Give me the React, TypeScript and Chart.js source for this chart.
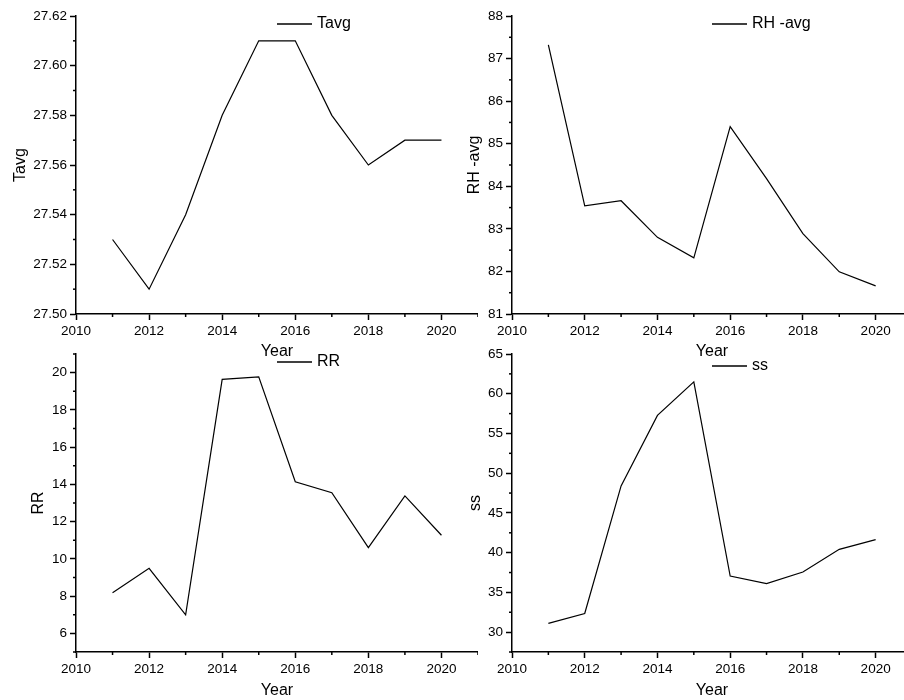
import React, { useEffect, useRef } from 'react';
import { Chart, registerables } from 'chart.js';

Chart.register(...registerables);

// ---- data ----
const years = [2011, 2012, 2013, 2014, 2015, 2016, 2017, 2018, 2019, 2020];
const tavg = [27.53, 27.51, 27.54, 27.58, 27.61, 27.61, 27.58, 27.56, 27.57, 27.57];
const rhAvg = [87.32, 83.54, 83.66, 82.8, 82.32, 85.4, 84.18, 82.89, 81.99, 81.66];
const rr = [8.18, 9.49, 7.0, 19.64, 19.77, 14.14, 13.55, 10.6, 13.38, 11.27];
const ss = [31.1, 32.35, 48.4, 57.27, 61.5, 37.06, 36.1, 37.56, 40.42, 41.64];

const yearTicks = [2010, 2012, 2014, 2016, 2018, 2020];
const tavgTicks = [27.5, 27.52, 27.54, 27.56, 27.58, 27.6, 27.62];
const rhTicks = [81, 82, 83, 84, 85, 86, 87, 88];
const rrTicks = [6, 8, 10, 12, 14, 16, 18, 20];
const ssTicks = [30, 35, 40, 45, 50, 55, 60, 65];

const FONT = '"Liberation Sans", Arial, Helvetica, sans-serif';
const TICK_SIZE = 13.5;

type Spec = {
  key: string;
  label: string;
  values: number[];
  ticks: number[];
  min: number;
  max: number;
  minorStep: number;
  decimals: number;
  box: { left: number; top: number; width: number; height: number };
  padTop: number;
  yWidth: number;
  xHeight: number;
  yTitlePad: number;
  legend: { dx: number; dy: number };
};

const panels: Spec[] = [
  {
    key: 'tl', label: 'Tavg', values: tavg, ticks: tavgTicks, min: 27.5, max: 27.62, minorStep: 0.01, decimals: 2,
    box: { left: 0, top: 0, width: 478, height: 361 }, padTop: 16, yWidth: 76, xHeight: 47, yTitlePad: 11,
    legend: { dx: 201, dy: 8 },
  },
  {
    key: 'tr', label: 'RH -avg', values: rhAvg, ticks: rhTicks, min: 81, max: 88, minorStep: 0.5, decimals: 0,
    box: { left: 440, top: 0, width: 472, height: 361 }, padTop: 16, yWidth: 72, xHeight: 47, yTitlePad: 25,
    legend: { dx: 200, dy: 8 },
  },
  {
    key: 'bl', label: 'RR', values: rr, ticks: rrTicks, min: 5, max: 21, minorStep: 1, decimals: 0,
    box: { left: 0, top: 340, width: 478, height: 360 }, padTop: 14, yWidth: 76, xHeight: 48, yTitlePad: 29,
    legend: { dx: 201, dy: 8 },
  },
  {
    key: 'br', label: 'ss', values: ss, ticks: ssTicks, min: 27.5, max: 65, minorStep: 2.5, decimals: 0,
    box: { left: 440, top: 340, width: 472, height: 360 }, padTop: 14, yWidth: 72, xHeight: 48, yTitlePad: 26,
    legend: { dx: 200, dy: 12 },
  },
];

const minorTicksPlugin = {
  id: 'minorTicks',
  afterDraw(chart: any, _args: any, opts: any) {
    const ctx = chart.ctx;
    ctx.save();
    ctx.strokeStyle = '#000';
    ctx.lineWidth = 1.5;
    const draw = (scale: any, step: number, isX: boolean) => {
      const majors = scale.ticks.map((t: any) => t.value);
      const n = Math.round((scale.max - scale.min) / step);
      for (let i = 0; i <= n; i++) {
        const v = scale.min + i * step;
        if (majors.some((m: number) => Math.abs(m - v) < step * 0.01)) continue;
        const p = scale.getPixelForValue(v);
        ctx.beginPath();
        if (isX) {
          ctx.moveTo(p, scale.top);
          ctx.lineTo(p, scale.top + opts.len);
        } else {
          ctx.moveTo(scale.right, p);
          ctx.lineTo(scale.right - opts.len, p);
        }
        ctx.stroke();
      }
    };
    draw(chart.scales.x, opts.xStep, true);
    draw(chart.scales.y, opts.yStep, false);
    ctx.restore();
  },
};

const inlineLegendPlugin = {
  id: 'inlineLegend',
  afterDraw(chart: any, _args: any, opts: any) {
    const ctx = chart.ctx;
    const { left, top } = chart.chartArea;
    const x = left + opts.dx;
    const y = top + opts.dy;
    ctx.save();
    ctx.strokeStyle = '#000';
    ctx.lineWidth = 1.3;
    ctx.beginPath();
    ctx.moveTo(x, y);
    ctx.lineTo(x + 35, y);
    ctx.stroke();
    ctx.fillStyle = '#000';
    ctx.font = `16px ${FONT}`;
    ctx.textBaseline = 'middle';
    ctx.textAlign = 'left';
    ctx.fillText(opts.text, x + 40, y);
    ctx.restore();
  },
};

function Panel({ spec }: { spec: Spec }) {
  const ref = useRef<HTMLCanvasElement>(null);
  useEffect(() => {
    const chart = new Chart(ref.current as HTMLCanvasElement, {
      type: 'line',
      data: {
        datasets: [
          {
            label: spec.label,
            data: years.map((yr, i) => ({ x: yr, y: spec.values[i] })),
            borderColor: '#000',
            borderWidth: 1.2,
            pointRadius: 0,
            tension: 0,
            fill: false,
          },
        ],
      },
      options: {
        responsive: false,
        animation: false,
        devicePixelRatio: 1,
        layout: { padding: { top: spec.padTop, left: 0, right: 0, bottom: 0 } },
        font: { family: FONT },
        plugins: {
          legend: { display: false },
          tooltip: { enabled: false },
          minorTicks: { xStep: 1, yStep: spec.minorStep, len: 3 },
          inlineLegend: { text: spec.label, dx: spec.legend.dx, dy: spec.legend.dy },
        } as any,
        scales: {
          x: {
            type: 'linear',
            min: 2010,
            max: 2021,
            afterBuildTicks: (s: any) => {
              s.ticks = yearTicks.map((v) => ({ value: v }));
            },
            afterFit: (s: any) => {
              s.height = spec.xHeight;
            },
            ticks: {
              autoSkip: false,
              maxRotation: 0,
              color: '#000',
              padding: 3,
              font: { family: FONT, size: TICK_SIZE },
              callback: (v: any) => String(v),
            },
            grid: { display: true, drawOnChartArea: false, drawTicks: true, tickLength: 6, tickWidth: 1.5, tickColor: '#000' },
            border: { display: true, color: '#000', width: 1.5 },
            title: { display: true, text: 'Year', color: '#000', font: { family: FONT, size: 16 }, padding: { top: 0, bottom: 0 } },
          },
          y: {
            type: 'linear',
            min: spec.min,
            max: spec.max,
            afterBuildTicks: (s: any) => {
              s.ticks = spec.ticks.map((v) => ({ value: v }));
            },
            afterFit: (s: any) => {
              s.width = spec.yWidth;
            },
            ticks: {
              autoSkip: false,
              color: '#000',
              padding: 3,
              font: { family: FONT, size: TICK_SIZE },
              callback: (v: any) => Number(v).toFixed(spec.decimals),
            },
            grid: { display: true, drawOnChartArea: false, drawTicks: true, tickLength: 6, tickWidth: 1.5, tickColor: '#000' },
            border: { display: true, color: '#000', width: 1.5 },
            title: { display: true, text: spec.label, color: '#000', font: { family: FONT, size: 16 }, padding: { top: spec.yTitlePad, bottom: 0 } },
          },
        },
      } as any,
      plugins: [minorTicksPlugin, inlineLegendPlugin],
    });
    return () => chart.destroy();
  }, [spec]);
  return (
    <canvas
      ref={ref}
      width={spec.box.width}
      height={spec.box.height}
      style={{ position: 'absolute', left: spec.box.left, top: spec.box.top, width: spec.box.width, height: spec.box.height }}
    />
  );
}

export default function App() {
  return (
    <div style={{ position: 'absolute', left: 0, top: 0, width: 904, height: 700, overflow: 'hidden', background: '#fff' }}>
      {panels.map((p) => (
        <Panel key={p.key} spec={p} />
      ))}
    </div>
  );
}
